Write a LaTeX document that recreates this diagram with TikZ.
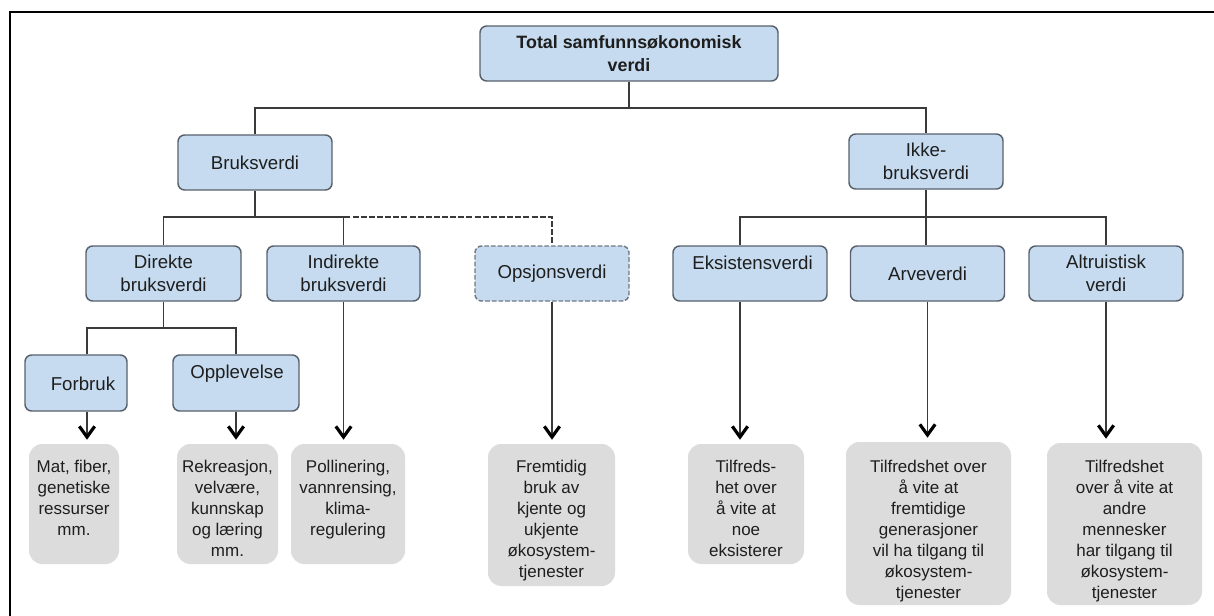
\documentclass[tikz,border=0pt]{standalone}
\usepackage{fontspec}
\setmainfont{Liberation Sans}
\usetikzlibrary{arrows.meta,calc}
\definecolor{bluefill}{HTML}{C6DBEF}
\definecolor{bordercol}{HTML}{58616C}
\definecolor{grayfill}{HTML}{DCDCDC}
\definecolor{textcol}{HTML}{1E1E1E}
\definecolor{linecol}{HTML}{3A3A3A}
\begin{document}
\begin{tikzpicture}[x=0.75pt,y=-0.75pt,
  bluebox/.style={draw=bordercol, line width=1.1pt, fill=bluefill, rounded corners=5pt,
    align=center, font=\fontsize{14}{17.25}\selectfont, text=textcol, inner sep=0pt,
    minimum width=115.5pt, minimum height=41.25pt},
  optbox/.style={bluebox, draw=bordercol!85, dash pattern=on 3.5pt off 1.5pt},
  bluetext/.style={font=\fontsize{14}{17.25}\selectfont, text=textcol, inner sep=0pt},
  graybox/.style={fill=grayfill, rounded corners=10pt, inner sep=0pt},
  graytext/.style={align=center, font=\fontsize{12.75}{15.75}\selectfont, text=textcol,
    inner sep=0pt, anchor=north},
  conn/.style={draw=linecol, line width=1pt},
  arr/.style={draw=linecol, line width=1pt,
    -{Straight Barb[length=8pt,width=11.5pt,line width=2.4pt,color=black]}, shorten >=3pt}]
\useasboundingbox (0,0) rectangle (1214,615);
\fill[white] (0,0) rectangle (1214,615);
\draw[line width=2.2pt, black] (10,620) -- (10,12) -- (1220,12);

% level 0
\node[bluebox, minimum width=223.5pt, font=\bfseries\fontsize{13.4}{17.25}\selectfont]
  (top) at (629,53.5) {Total samfunnsøkonomisk\\verdi};
% level 1
\node[bluebox] (bruk) at (255,162.5) {Bruksverdi};
\node[bluebox] (ikke) at (926,161.5) {Ikke-\\bruksverdi};
% level 2
\node[bluebox, minimum width=116.25pt] (dir) at (163.5,273.5) {Direkte\\bruksverdi};
\node[bluebox, minimum width=114.75pt] (ind) at (343.5,273.5) {Indirekte\\bruksverdi};
\node[optbox] (ops) at (552,273.5) {Opsjonsverdi};
\node[bluebox] (eks) at (750,273.5) {};
\node[bluetext] at ($(eks.north)+(2.5,17.5)$) {Eksistensverdi};
\node[bluebox] (arve) at (927.5,273.5) {Arveverdi};
\node[bluebox] (altr) at (1106,273.5) {Altruistisk\\verdi};
% level 3
\node[bluebox, minimum width=76.5pt, minimum height=42pt] (forb) at (76,383) {};
\node[bluetext] at ($(forb.center)+(7,1)$) {Forbruk};
\node[bluebox, minimum width=94.5pt, minimum height=42pt] (opp) at (236,383) {};
\node[bluetext] at ($(opp.north)+(1,19)$) {Opplevelse};

% gray boxes
\node[graybox, minimum width=67.5pt, minimum height=90pt] (mat) at (74,504) {};
\node[graytext] at ($(mat.north)+(0,16)$) {Mat, fiber,\\genetiske\\ressurser\\mm.};
\node[graybox, minimum width=75.75pt, minimum height=90pt] (rek) at (227.5,504) {};
\node[graytext] at ($(rek.north)+(0,16)$) {Rekreasjon,\\velvære,\\kunnskap\\og læring\\mm.};
\node[graybox, minimum width=85.5pt, minimum height=90pt] (poll) at (348,504) {};
\node[graytext] at ($(poll.north)+(0,16)$) {Pollinering,\\vannrensing,\\klima-\\regulering};
\node[graybox, minimum width=95.25pt, minimum height=106.5pt] (frem) at (551.5,515) {};
\node[graytext] at ($(frem.north)+(0,16)$) {Fremtidig\\bruk av\\kjente og\\ukjente\\økosystem-\\tjenester};
\node[graybox, minimum width=87pt, minimum height=90pt] (tilf) at (746,504) {};
\node[graytext] at ($(tilf.north)+(0,16)$) {Tilfreds-\\het over\\å vite at\\noe\\eksisterer};
\node[graybox, minimum width=123.75pt, minimum height=122.25pt] (arvg) at (928.5,523.5) {};
\node[graytext] at ($(arvg.north)+(0,18)$) {Tilfredshet over\\å vite at\\fremtidige\\generasjoner\\vil ha tilgang til\\økosystem-\\tjenester};
\node[graybox, minimum width=116.25pt, minimum height=121.5pt] (altg) at (1124.5,524) {};
\node[graytext] at ($(altg.north)+(0,17)$) {Tilfredshet\\over å vite at\\andre\\mennesker\\har tilgang til\\økosystem-\\tjenester};

% connectors
\coordinate (j0) at (629,108);
\draw[conn] (top.south) -- (j0) -| (bruk.north);
\draw[conn] (j0) -| (ikke.north);

\coordinate (j1) at (255,217);
\draw[conn] (bruk.south) -- (j1) -| (dir.north);
\draw[conn] (j1) -| (ind.north);
\draw[conn, dash pattern=on 4.5pt off 1.6pt] (j1) -| (ops.north);

\coordinate (ek) at ($(eks.north)+(-10,0)$);
\coordinate (j2) at (926,217);
\draw[conn] (ikke.south) -- (j2) -| (ek);
\draw[conn] (j2) -| (altr.north);
\draw[conn] (j2) -- (j2 |- arve.north);

\coordinate (fk) at ($(forb.north)+(11,0)$);
\coordinate (j3) at (163.5,328);
\draw[conn] (dir.south) -- (j3) -| (fk);
\draw[conn] (j3) -| (opp.north);

% arrows
\coordinate (fa) at ($(forb.south)+(11,0)$);
\draw[arr] (fa) -- (fa |- mat.north);
\draw[arr] (opp.south) -- (opp.south |- rek.north);
\draw[arr] (ind.south) -- (ind.south |- poll.north);
\draw[arr] (ops.south) -- (ops.south |- frem.north);
\coordinate (ea) at ($(eks.south)+(-10,0)$);
\draw[arr] (ea) -- (ea |- tilf.north);
\draw[arr] (arve.south) -- (arve.south |- arvg.north);
\draw[arr] (altr.south) -- (altr.south |- altg.north);
\end{tikzpicture}
\end{document}
